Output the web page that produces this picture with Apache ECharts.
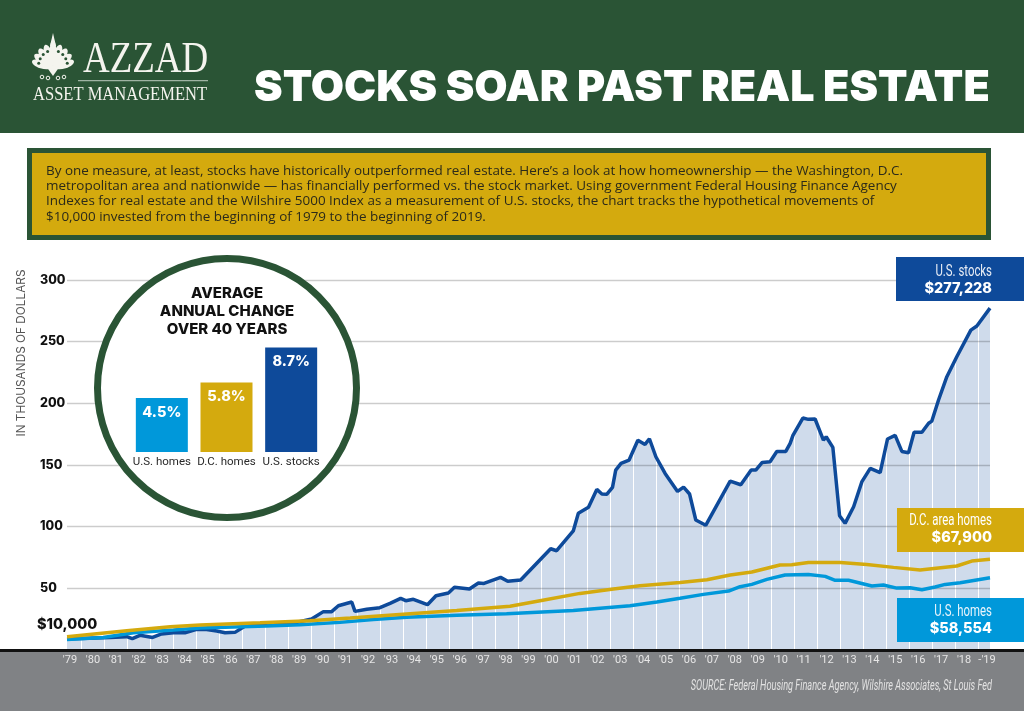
<!DOCTYPE html>
<html>
<head>
<meta charset="utf-8">
<style>html,body{margin:0;padding:0;background:#fff}#main{width:1024px;height:711px}</style>
<script src="https://cdn.jsdelivr.net/npm/echarts@6/dist/echarts.min.js"></script>
</head>
<body>
<div id="main"></div>
<script>
'use strict';
var tickLabels = ["'79","'80","'81","'82","'83","'84","'85","'86","'87","'88","'89","'90","'91","'92","'93","'94","'95","'96","'97","'98","'99","'00","'01","'02","'03","'04","'05","'06","'07","'08","'09","'10","'11","'12","'13","'14","'15","'16","'17","'18","-'19"];

// [year, value in thousands]
var stockYears = [1979,1979.56,1980.86,1981.59,1981.83,1982.16,1982.71,1983.1,1983.61,1984.11,1984.62,1985.05,1985.49,1985.85,1986.28,1986.72,1987.65,1988.38,1988.88,1989.6,1990.11,1990.47,1990.76,1991.34,1991.48,1991.99,1992.56,1993,1993.46,1993.68,1994.01,1994.62,1994.99,1995.53,1995.79,1996.44,1996.83,1997.07,1997.79,1998.1,1998.66,1999.96,2000.22,2000.94,2001.16,2001.6,2001.96,2002.18,2002.39,2002.64,2002.78,2003.01,2003.36,2003.74,2004.05,2004.24,2004.52,2004.92,2005.46,2005.72,2005.98,2006.25,2006.68,2007.74,2008.2,2008.65,2008.85,2009.13,2009.47,2009.76,2010.15,2010.34,2010.46,2010.89,2011.13,2011.42,2011.78,2011.9,2012.19,2012.48,2012.72,2013.09,2013.45,2013.81,2014.24,2014.56,2014.89,2015.18,2015.47,2015.71,2016.05,2016.34,2016.48,2016.77,2017.13,2017.56,2018.17,2018.43,2019];
var stockValues = [9,9.4,10.2,10.8,9.2,11.9,10.2,13,14,14,16.7,16.7,15.4,14,14.3,19.4,21.1,21.1,22.1,25.1,31.1,31.1,35.9,38.9,31.3,33,34.3,37.8,41.9,40,41.1,36.7,44,46.2,50.8,49.4,54.3,54,58.9,55.7,56.7,82.1,80.5,96.5,110.8,115.7,130.2,126.5,126.2,131.9,145.9,151.3,154,170,166.7,171.3,156.7,143.2,128.6,132.1,126.5,105.4,101.1,137,134,145.9,145.9,152.1,152.7,161,161,167.5,174,188.1,187,187.3,170.2,172.9,164.3,108.9,102.7,116.2,136.5,147.3,143.8,171.1,174,161,160,176.5,176.5,183.8,185.6,202.7,221.6,237.8,259.4,262.7,277.2];

var dcYears = [1979,1981.59,1983.47,1984.77,1987.37,1989.53,1991.27,1993.72,1995.89,1998.2,1999.5,2001.23,2002.68,2003.83,2005.57,2006.73,2007.74,2008.68,2009.9,2010.41,2011.13,2012.51,2013.66,2014.82,2015.97,2017.56,2018.21,2019];
var dcValues = [10.8,15.7,18.9,20.2,22.1,23.8,25.9,29.2,32.1,35.4,40,45.9,49.4,52.1,54.8,57,60.8,63.2,68.9,69.2,71,71,69.4,67,64.8,68.1,72.1,73.5];

var homeYears = [1979,1980.57,1981.88,1983.61,1984.77,1987.65,1989.1,1990.83,1992.27,1993.72,1995.89,1998.05,2000.94,2003.4,2004.56,2005.57,2006.58,2007.67,2008.17,2008.68,2009.33,2010.12,2011.13,2011.86,2012.29,2012.87,2013.88,2014.38,2014.96,2015.54,2016.05,2016.62,2017.06,2017.71,2019];
var homeValues = [8.6,10.2,14,16.2,17.8,19.4,20.5,22.4,24.8,26.5,28.1,29.4,32.1,35.9,38.9,41.9,45.1,47.8,51.3,53.2,57.3,60.8,61.3,59.7,56.5,56.5,51.9,52.7,50.2,50.5,48.9,51.1,53.2,54.6,58.6];

var insetCategories = ['U.S. homes', 'D.C. homes', 'U.S. stocks'];
var insetValues = [4.5, 5.8, 8.7];
var insetColors = ['#0098da', '#d4aa0e', '#0e4a9a'];

var introLines = [
	"By one measure, at least, stocks have historically outperformed real estate. Here\u2019s a look at how homeownership \u2014 the Washington, D.C.",
	"metropolitan area and nationwide \u2014 has financially performed vs. the stock market. Using government Federal Housing Finance Agency",
	"Indexes for real estate and the Wilshire 5000 Index as a measurement of U.S. stocks, the chart tracks the hypothetical movements of",
	"$10,000 invested from the beginning of 1979 to the beginning of 2019."
];

var GREEN = '#2a5435', GOLD = '#d4aa0e', NAVY = '#0e4a9a', SKY = '#0098da', LOGO = '#f4f4ee';
var HEAVY = 'Inter';
var NARROW_SCALE = 0.67;

function pairs(xs, ys) {
	return xs.map(function (x, i) { return [x, ys[i]]; });
}
function rect(x, y, w, h, fill, z) {
	return { type: 'rect', z: z, silent: true, shape: { x: x, y: y, width: w, height: h }, style: { fill: fill } };
}
function txt(x, y, text, font, fill, align, z, scaleX, rotation) {
	return {
		type: 'text', x: x, y: y, z: z, scaleX: scaleX || 1, rotation: rotation || 0, silent: true,
		style: { x: 0, y: 0, text: text, font: font, fill: fill, textAlign: align || 'left', textVerticalAlign: 'middle' }
	};
}

var gfx = [
	rect(0, 0, 1024, 133, GREEN, 0),
	rect(27, 148, 964, 92, GREEN, 0),
	rect(32, 153, 954, 82, GOLD, 0),
	rect(0, 651, 1024, 60, '#808285', 1),
	rect(0, 649, 1024, 3, '#111', 9),
	// logo
	txt(83, 60, 'AZZAD', '44px "Liberation Serif"', LOGO, 'left', 2, 0.84),
	rect(78, 80, 130, 1.2, '#9fb3a3', 2),
	txt(33, 95, 'ASSET MANAGEMENT', '19px "Liberation Serif"', LOGO, 'left', 2, 0.87),
	txt(254, 88, 'STOCKS SOAR PAST REAL ESTATE', '900 43px ' + HEAVY, '#fff', 'left', 2),
	// inset ring
	{ type: 'circle', z: 6, silent: true, shape: { cx: 227, cy: 388, r: 129.5 }, style: { fill: '#fff', stroke: GREEN, lineWidth: 7 } },
	txt(227, 293, 'AVERAGE', '800 15px ' + HEAVY, '#111', 'center', 7),
	txt(227, 311, 'ANNUAL CHANGE', '800 15px ' + HEAVY, '#111', 'center', 7),
	txt(227, 329, 'OVER 40 YEARS', '800 15px ' + HEAVY, '#111', 'center', 7),
	txt(21, 353, 'IN THOUSANDS OF DOLLARS', '11.8px Inter', '#555', 'center', 3, 1, Math.PI / 2),
	txt(37, 625, '$10,000', '800 14.5px ' + HEAVY, '#111', 'left', 6),
	// end boxes
	rect(896, 257, 128, 44, NAVY, 8),
	txt(992, 272, 'U.S. stocks', '17px Roboto', '#e8edf5', 'right', 9, NARROW_SCALE),
	txt(992, 289, '$277,228', '800 14.5px ' + HEAVY, '#fff', 'right', 9),
	rect(897, 508, 127, 44, GOLD, 8),
	txt(992, 521, 'D.C. area homes', '17px Roboto', '#fff', 'right', 9, NARROW_SCALE),
	txt(992, 538, '$67,900', '800 14.5px ' + HEAVY, '#fff', 'right', 9),
	rect(897, 598, 127, 44, SKY, 8),
	txt(992, 612, 'U.S. homes', '17px Roboto', '#e8f4fb', 'right', 9, NARROW_SCALE),
	txt(992, 629, '$58,554', '800 14.5px ' + HEAVY, '#fff', 'right', 9),
	txt(992, 686, 'SOURCE: Federal Housing Finance Agency, Wilshire Associates, St Louis Fed', 'italic 14px Roboto', '#e2e2e2', 'right', 7, 0.655)
];
introLines.forEach(function (line, i) {
	gfx.push(txt(46, [171, 186, 201.5, 217][i], line, '13px "Open Sans"', '#2b2a1a', 'left', 2, 1.035));
});
// logo plume
[-72, -54, -36, -18, 0, 18, 36, 54, 72].forEach(function (deg, i) {
	var len = i === 4 ? 26 : 20 + (4 - Math.abs(i - 4)) * 0.8;
	var a = deg * Math.PI / 180;
	gfx.push({
		type: 'ellipse', z: 2, silent: true, x: 53, y: 68, rotation: -a,
		shape: { cx: 0, cy: -len / 2 - 2, rx: i === 4 ? 3.4 : 4.2, ry: len / 2 },
		style: { fill: LOGO }
	});
	if (i !== 4) {
		gfx.push({
			type: 'circle', z: 3, silent: true,
			shape: { cx: 53 + Math.sin(a) * (len - 5), cy: 68 - Math.cos(a) * (len - 5), r: 1.5 },
			style: { fill: GREEN }
		});
	}
});
gfx.push({ type: 'polygon', z: 2, silent: true, shape: { points: [[53, 33], [50, 46], [56, 46]] }, style: { fill: LOGO } });
gfx.push({ type: 'polygon', z: 2, silent: true, shape: { points: [[46, 66], [60, 66], [53, 76]] }, style: { fill: LOGO } });
[[42, 77], [48, 78], [58, 78], [64, 77]].forEach(function (p) {
	gfx.push({ type: 'circle', z: 2, silent: true, shape: { cx: p[0], cy: p[1], r: 1.8 }, style: { fill: 'none', stroke: LOGO, lineWidth: 1 } });
});

var hidden = { show: false };

var option = {
	animation: false,
	backgroundColor: '#fff',
	graphic: { elements: gfx },
	grid: [
		{ left: 67, right: 34, top: 280, bottom: 61 },
		{ left: 81.7, width: 897, top: 280, bottom: 61 },
		{ left: 70, width: 917, top: 280, bottom: 61 },
		{ left: 129.5, width: 194, top: 332, height: 120 }
	],
	xAxis: [
		{ gridIndex: 0, type: 'value', min: 1979, max: 2019, show: false },
		{
			gridIndex: 1, type: 'value', min: 0, max: 39, interval: 1, z: 3,
			axisLine: hidden, axisTick: hidden, axisLabel: hidden,
			splitLine: { show: true, lineStyle: { color: '#fff', width: 1 } }
		},
		{
			gridIndex: 2, type: 'category', boundaryGap: false, data: tickLabels, z: 7,
			axisLine: hidden, axisTick: hidden, splitLine: hidden,
			axisLabel: { interval: 0, margin: 5, color: '#e6e6e6', fontSize: 11, fontFamily: 'Roboto' }
		},
		{
			gridIndex: 3, type: 'category', data: insetCategories, z: 7,
			axisLine: hidden, axisTick: hidden,
			axisLabel: { interval: 0, margin: 4, color: '#2a2a2a', fontSize: 11.5, fontFamily: 'Roboto' }
		}
	],
	yAxis: [
		{
			gridIndex: 0, type: 'value', min: 0, max: 300, interval: 50, z: 4,
			axisLine: hidden, axisTick: hidden,
			axisLabel: {
				align: 'left', margin: 27, color: '#111', fontFamily: HEAVY, fontWeight: 800, fontSize: 12.5,
				formatter: function (v) { return v === 0 ? '' : v; }
			},
			splitLine: { lineStyle: { color: 'rgba(0,0,0,0.2)', width: 1.4 } }
		},
		{ gridIndex: 1, type: 'value', min: 0, max: 300, show: false },
		{ gridIndex: 2, type: 'value', min: 0, max: 300, show: false },
		{ gridIndex: 3, type: 'value', min: 0, max: 10, show: false }
	],
	series: [
		{
			name: 'U.S. stocks area', type: 'line', xAxisIndex: 0, yAxisIndex: 0, z: 2,
			data: pairs(stockYears, stockValues), showSymbol: false,
			lineStyle: { width: 0 }, areaStyle: { color: '#0e4a9a', opacity: 0.2 }
		},
		{
			name: 'U.S. stocks', type: 'line', xAxisIndex: 0, yAxisIndex: 0, z: 5,
			data: pairs(stockYears, stockValues), showSymbol: false,
			lineStyle: { color: NAVY, width: 3.5 }
		},
		{
			name: 'U.S. homes', type: 'line', xAxisIndex: 0, yAxisIndex: 0, z: 5,
			data: pairs(homeYears, homeValues), showSymbol: false,
			lineStyle: { color: SKY, width: 3.5 }
		},
		{
			name: 'D.C. area homes', type: 'line', xAxisIndex: 0, yAxisIndex: 0, z: 5,
			data: pairs(dcYears, dcValues), showSymbol: false,
			lineStyle: { color: GOLD, width: 3.5 }
		},
		{
			name: 'Average annual change', type: 'bar', xAxisIndex: 3, yAxisIndex: 3, z: 8,
			barWidth: 52,
			data: insetValues.map(function (v, i) {
				return { value: v, itemStyle: { color: insetColors[i] } };
			}),
			label: {
				show: true, position: 'insideTop', distance: 7, color: '#fff',
				fontFamily: HEAVY, fontWeight: 800, fontSize: 14.5,
				formatter: function (p) { return p.value.toFixed(1) + '%'; }
			}
		}
	]
};

echarts.init(document.getElementById('main')).setOption(option);
</script>
</body>
</html>
